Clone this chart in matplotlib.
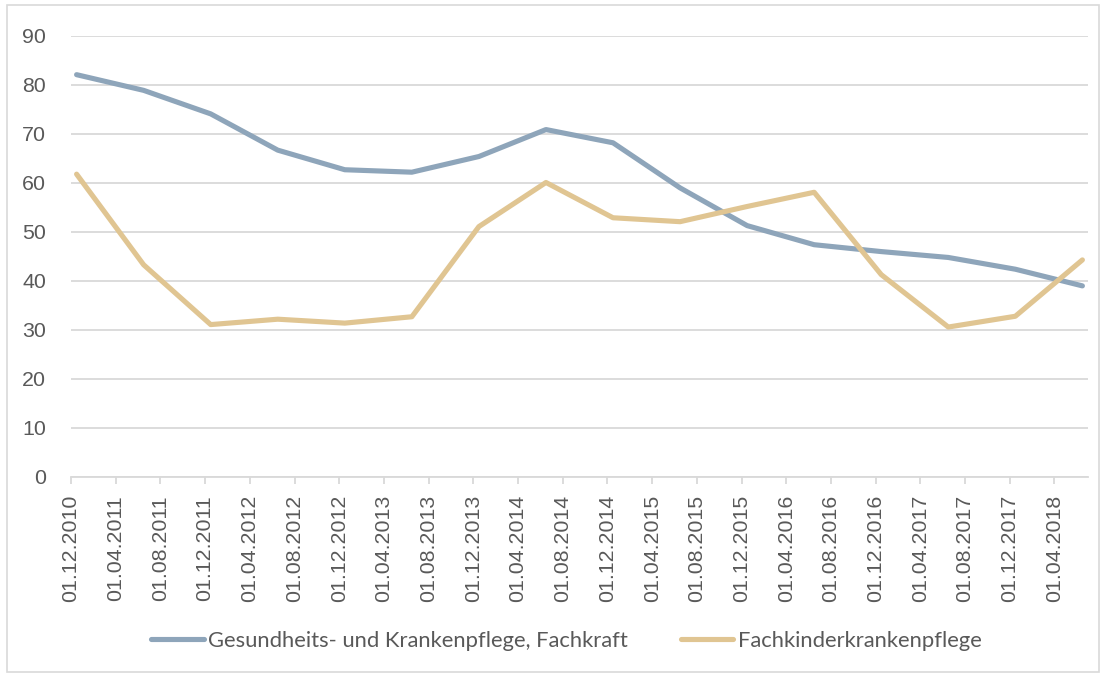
import pandas as pd
import matplotlib.pyplot as plt
from matplotlib.patches import Rectangle

# Halbjahreswerte (Stichtag jeweils 01.12. bzw. 01.06.)
dates = ['01.12.2010', '01.06.2011', '01.12.2011', '01.06.2012', '01.12.2012', '01.06.2013',
         '01.12.2013', '01.06.2014', '01.12.2014', '01.06.2015', '01.12.2015', '01.06.2016',
         '01.12.2016', '01.06.2017', '01.12.2017', '01.06.2018']
gkp_fachkraft = [82.1, 78.9, 74.1, 66.7, 62.7, 62.2, 65.4, 70.9, 68.2, 59.0, 51.3, 47.4,
                 46.0, 44.8, 42.4, 39.0]
fachkinder = [61.8, 43.3, 31.1, 32.2, 31.4, 32.7, 51.1, 60.1, 52.9, 52.1, 55.2, 58.1,
              41.3, 30.6, 32.8, 44.3]
tick_labels = ['01.12.2010', '01.04.2011', '01.08.2011', '01.12.2011', '01.04.2012',
               '01.08.2012', '01.12.2012', '01.04.2013', '01.08.2013', '01.12.2013',
               '01.04.2014', '01.08.2014', '01.12.2014', '01.04.2015', '01.08.2015',
               '01.12.2015', '01.04.2016', '01.08.2016', '01.12.2016', '01.04.2017',
               '01.08.2017', '01.12.2017', '01.04.2018']
series_names = ['Gesundheits- und Krankenpflege, Fachkraft', 'Fachkinderkrankenpflege']

# Excel-Datumsachse mit Monaten als Basiseinheit: Punkte in der Mitte des Monats
start = pd.to_datetime(dates[0], format='%d.%m.%Y')
def month_idx(s):
    d = pd.to_datetime(s, format='%d.%m.%Y')
    return (d.year - start.year) * 12 + (d.month - start.month)

x = [month_idx(d) + 0.5 for d in dates]
xt = [month_idx(t) for t in tick_labels]

txt = '#595959'
fig = plt.figure(figsize=(11.06, 6.76), dpi=100)
fig.patches.append(Rectangle((0.006, 0.006), 0.988, 0.986, transform=fig.transFigure,
                             fill=False, edgecolor='#D9D9D9', linewidth=1.2))
ax = fig.add_axes([0.0642, 0.2944, 0.9195, 0.6524])

ax.plot(x, gkp_fachkraft, color='#8EA5BA', lw=3.7, solid_capstyle='round',
        solid_joinstyle='round', label=series_names[0])
ax.plot(x, fachkinder, color='#E0C592', lw=3.7, solid_capstyle='round',
        solid_joinstyle='round', label=series_names[1])

ax.set_xlim(0, month_idx('01.06.2018') + 1)
ax.set_ylim(0, 90)
ax.set_yticks(range(0, 91, 10))
ax.set_xticks(xt)
ax.set_xticklabels(tick_labels, rotation=90, fontsize=15.4, color=txt,
                   family='Liberation Sans')
for lab in ax.get_yticklabels():
    lab.set_fontsize(15.4)
    lab.set_color(txt)
    lab.set_family('Liberation Sans')

ax.grid(axis='y', color='#D9D9D9', lw=1.3)
ax.set_axisbelow(True)
for s in ['top', 'right', 'left']:
    ax.spines[s].set_visible(False)
ax.spines['bottom'].set_color('#D9D9D9')
ax.spines['bottom'].set_linewidth(1.3)
ax.tick_params(axis='y', length=0, pad=18)
ax.tick_params(axis='x', length=5, color='#D9D9D9', width=1.3, pad=8)

leg = fig.legend(loc='center', bbox_to_anchor=(0.512, 0.052), ncol=2, frameon=False,
                 prop={'family': 'Lato', 'size': 15.8}, handlelength=2.4,
                 handletextpad=0.2, columnspacing=2.4)
for t in leg.get_texts():
    t.set_color(txt)

fig.savefig('out.png', dpi=100)
